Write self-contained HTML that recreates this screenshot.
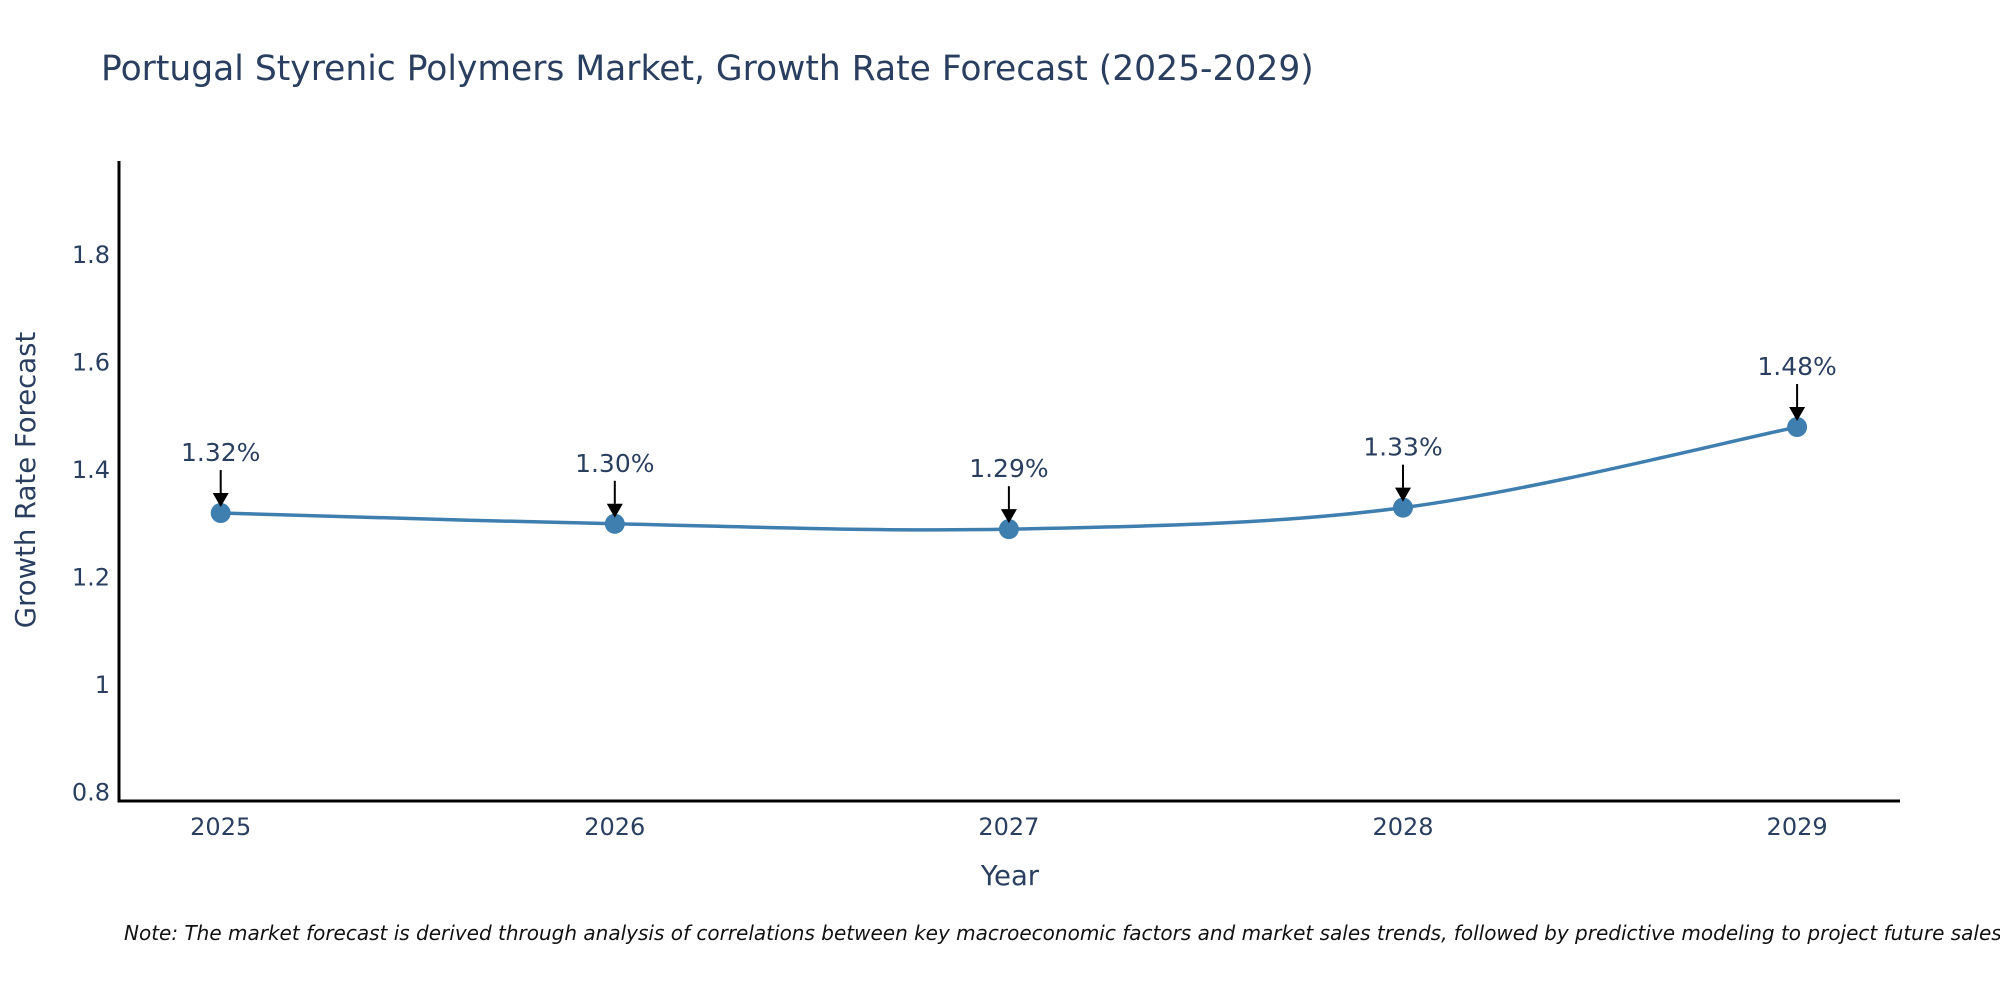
<!DOCTYPE html>
<html><head><meta charset="utf-8"><style>
body{margin:0;background:#fff;width:2000px;height:1000px;overflow:hidden;font-family:"Liberation Sans","DejaVu Sans",sans-serif}
text{font-family:"DejaVu Sans","Liberation Sans",sans-serif;fill:#2a3f5f}
</style></head><body>
<svg id="chart" width="2000" height="1000" xmlns="http://www.w3.org/2000/svg">
<text x="101" y="80" font-size="34.5">Portugal Styrenic Polymers Market, Growth Rate Forecast (2025-2029)</text>
<g id="plot"></g>
<text transform="translate(35,480) rotate(-90)" text-anchor="middle" font-size="27.5">Growth Rate Forecast</text>
<text x="1010" y="885" text-anchor="middle" font-size="27.5">Year</text>
<text x="124" y="940" font-size="20" font-style="italic" style="fill:#111">Note: The market forecast is derived through analysis of correlations between key macroeconomic factors and market sales trends, followed by predictive modeling to project future sales.</text>
</svg>
<script>
const years=[2025,2026,2027,2028,2029];
const rates=[1.32,1.30,1.29,1.33,1.48];
const labels=["1.32%","1.30%","1.29%","1.33%","1.48%"];
const yTicks=[0.8,1,1.2,1.4,1.6,1.8];
const yTickLabels=["0.8","1","1.2","1.4","1.6","1.8"];
const NS="http://www.w3.org/2000/svg";
const g=document.getElementById('plot');
const X=v=>220.7+(v-2025)*394.1;
const Y=v=>255+(1.8-v)*537.6;
function mk(t,a,p){const e=document.createElementNS(NS,t);for(const k in a)e.setAttribute(k,a[k]);(p||g).appendChild(e);return e;}
const ya=mk('line',{x1:119,y1:161,x2:119,y2:802,stroke:'#000','stroke-width':3});


const xa=mk('line',{x1:117.5,y1:801,x2:1900,y2:801,stroke:'#000','stroke-width':3});


yTicks.forEach((v,i)=>{const t=mk('text',{x:110,y:Y(v)+8,'text-anchor':'end','font-size':24});t.textContent=yTickLabels[i];

});
years.forEach(v=>{const t=mk('text',{x:X(v),y:835,'text-anchor':'middle','font-size':24});t.textContent=String(v);

});
const pts=years.map((v,i)=>[X(v),Y(rates[i])]);
let d='M'+pts[0][0]+','+pts[0][1];
for(let i=0;i<pts.length-1;i++){const p0=pts[i-1]||pts[i],p1=pts[i],p2=pts[i+1],p3=pts[i+2]||p2;const s=1/6;
d+=` C${p1[0]+(p2[0]-p0[0])*s},${p1[1]+(p2[1]-p0[1])*s} ${p2[0]-(p3[0]-p1[0])*s},${p2[1]-(p3[1]-p1[1])*s} ${p2[0]},${p2[1]}`;}
const ln=mk('path',{d:d,fill:'none',stroke:'#3f7fb0','stroke-width':3.5});


pts.forEach((p,i)=>{
const c=mk('circle',{cx:p[0],cy:p[1],r:10,fill:'#3f7fb0'});


const a=mk('line',{x1:p[0],y1:p[1]-43,x2:p[0],y2:p[1]-20,stroke:'#000','stroke-width':2});


const h=mk('polygon',{points:`${p[0]-8},${p[1]-20} ${p[0]+8},${p[1]-20} ${p[0]},${p[1]-6}`,fill:'#000'});


const t=mk('text',{x:p[0],y:p[1]-52,'text-anchor':'middle','font-size':25});t.textContent=labels[i];


});
</script>
</body></html>
